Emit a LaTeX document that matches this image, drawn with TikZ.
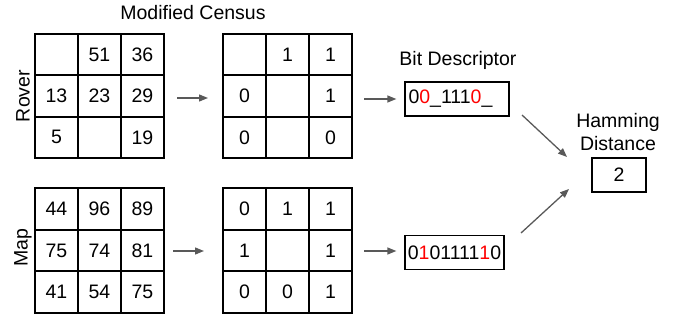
\documentclass[tikz,border=0pt]{standalone}
\usepackage{fontspec}
\setmainfont{Liberation Sans}
\usetikzlibrary{arrows.meta}
\definecolor{arrowgray}{HTML}{595959}
\definecolor{bitred}{HTML}{FF0000}
\begin{document}
\begin{tikzpicture}[x=1pt,y=-1pt,
  every node/.style={font=\fontsize{19.5}{23}\selectfont, inner sep=0pt},
  cell/.style={draw, line width=2pt, minimum width=43pt, minimum height=41.4pt},
  bitbox/.style={draw, line width=1.3pt, minimum height=34pt},
  conn/.style={draw=arrowgray, line width=1.3pt, -{Triangle[length=9pt,width=7pt]}}
]
\useasboundingbox (0,0) rectangle (690,320);

% Rover raw grid
\foreach \c/\r/\t in {1/1/{},2/1/51,3/1/36,1/2/13,2/2/23,3/2/29,1/3/5,2/3/{},3/3/19}
  \node[cell] (ra-\r-\c) at ({35+43*(\c-0.5)},{34+41.33*(\r-0.5)}) {\t};
% Rover census grid
\foreach \c/\r/\t in {1/1/{},2/1/1,3/1/1,1/2/0,2/2/{},3/2/1,1/3/0,2/3/{},3/3/0}
  \node[cell] (rb-\r-\c) at ({223+43*(\c-0.5)},{34+41.33*(\r-0.5)}) {\t};
% Map raw grid
\foreach \c/\r/\t in {1/1/44,2/1/96,3/1/89,1/2/75,2/2/74,3/2/81,1/3/41,2/3/54,3/3/75}
  \node[cell] (ma-\r-\c) at ({35+43*(\c-0.5)},{188+41.67*(\r-0.5)}) {\t};
% Map census grid
\foreach \c/\r/\t in {1/1/0,2/1/1,3/1/1,1/2/1,2/2/{},3/2/1,1/3/0,2/3/0,3/3/1}
  \node[cell] (mb-\r-\c) at ({223+43*(\c-0.5)},{188+41.67*(\r-0.5)}) {\t};

% labels
\node (title) at (193,13) {Modified Census};
\node[rotate=90] (rover) at (23,96) {Rover};
\node[rotate=90] (map) at (23,248) {Map};
\node (bdtitle) at (458,60) {Bit Descriptor};
\node[align=center, font=\fontsize{19.5}{23}\selectfont] (hdtitle) at (618,132) {Hamming\\Distance};

% bit descriptors
\node[bitbox, text width=97pt, inner xsep=3.5pt, align=left] (bd1) at (457,99)
  {0\textcolor{bitred}{0}\_111\textcolor{bitred}{0}\_};
\node[bitbox, minimum width=99pt] (bd2) at (454.5,252.5)
  {0\textcolor{bitred}{1}01111\textcolor{bitred}{1}0};
\node[bitbox, minimum width=54pt] (hd) at (619,175) {2};

% connectors
\draw[conn, shorten <=12pt, shorten >=14pt] (ra-2-3.east |- 0,98) -- (rb-2-1.west |- 0,98);
\draw[conn, shorten <=8pt, shorten >=18pt] (ma-2-3.east |- 0,251) -- (mb-2-1.west |- 0,251);
\draw[conn, shorten <=11pt, shorten >=8pt] (rb-2-3.east |- bd1.west) -- (bd1.west);
\draw[conn, shorten <=11pt, shorten >=8pt] (mb-2-3.east |- 0,251) -- (bd2.west |- 0,251);
\coordinate (d1s) at (522,115);
\coordinate (d1e) at (567,157);
\coordinate (d2s) at (521,233);
\coordinate (d2e) at (569,189);
\draw[conn] (d1s) -- (d1e);
\draw[conn] (d2s) -- (d2e);
\end{tikzpicture}
\end{document}
